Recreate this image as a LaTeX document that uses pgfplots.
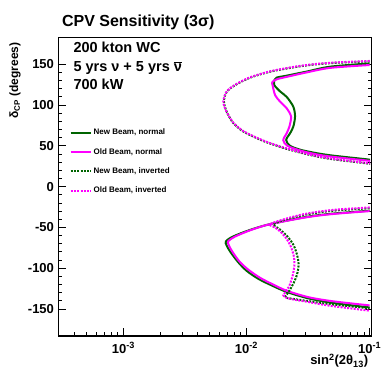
\documentclass[border=0pt]{standalone}
\usepackage{pgfplots}
\pgfplotsset{compat=1.18}
\usepackage{fontspec}
\setmainfont{Liberation Sans}

\definecolor{newgreen}{RGB}{0,100,0}
\definecolor{oldmag}{RGB}{255,0,255}

\begin{document}
\begin{tikzpicture}
\begin{axis}[
   scale only axis,
   width=313.2pt, height=298.7pt,
   xmode=log,
   xmin=2.97e-4, xmax=0.104,
   ymin=-183, ymax=183,
   axis line style={line width=1.1pt},
   tick style={line width=0.9pt, black},
   tick align=inside,
   major tick length=8pt, minor tick length=4pt,
   xtick pos=left, ytick pos=both, yticklabel pos=left,
   xtick={1e-3,1e-2,1e-1},
   xticklabels={10\textsuperscript{-3},10\textsuperscript{-2},10\textsuperscript{-1}},
   minor xtick={4e-4,5e-4,6e-4,7e-4,8e-4,9e-4,2e-3,3e-3,4e-3,5e-3,6e-3,7e-3,8e-3,9e-3,2e-2,3e-2,4e-2,5e-2,6e-2,7e-2,8e-2,9e-2},
   ytick={-150,-100,-50,0,50,100,150},
   yticklabels={-150,-100,-50,0,50,100,150},
   minor y tick num=4,
   ticklabel style={font=\bfseries\fontsize{13}{13}\selectfont},
   xticklabel style={yshift=-3pt},
   yticklabel style={xshift=-1pt},
   xlabel={sin\textsuperscript{2}(2θ\textsubscript{13})},
   xlabel style={at={(axis description cs:1,0)}, anchor=base east, yshift=-29pt,
                 font=\bfseries\fontsize{13}{13}\selectfont},
   ylabel={δ\textsubscript{CP} (degrees)},
   ylabel style={at={(axis description cs:-0.139,0.994)}, anchor=east,
                 font=\bfseries\fontsize{12}{12}\selectfont},
   legend style={draw=none, fill=none, at={(axis description cs:0.035,0.70)},
                 anchor=north west, inner sep=0pt, row sep=8pt,
                 cells={anchor=west},
                 font=\bfseries\fontsize{8}{8}\selectfont},
   legend image code/.code={\draw[#1] (0pt,0pt) -- (20pt,0pt);},
 ]
% upper region, delta_CP > 0
\addplot[newgreen, line width=2pt, smooth, tension=0.5] coordinates {
 (0.1,151) (0.0478,147) (0.0309,141) (0.0212,136) (0.0176,133.6) (0.0169,130.8)
 (0.0168,124.6) (0.0188,116.5) (0.0212,110) (0.0240,98) (0.0248,86) (0.0240,73.5)
 (0.0226,65.4) (0.0210,57.2) (0.0226,50) (0.0277,45) (0.0372,41) (0.0505,38)
 (0.0948,33.5) (0.1,33)};
\addlegendentry{New Beam, normal}
\addplot[oldmag, line width=2pt, smooth, tension=0.5] coordinates {
 (0.1,149) (0.0478,145.5) (0.0309,140) (0.0212,134.5) (0.0176,131.5) (0.0162,128)
 (0.0163,124) (0.0171,112) (0.0188,104) (0.0212,96) (0.0230,86) (0.0223,73.5)
 (0.0212,65.4) (0.0199,57) (0.0215,50) (0.0277,44) (0.0372,39.5) (0.0505,36.5)
 (0.0948,32) (0.1,31.5)};
\addlegendentry{Old Beam, normal}
\addplot[newgreen, line width=2pt, dash pattern=on 2pt off 1.3pt, smooth, tension=0.5] coordinates {
 (0.1,153.5) (0.0505,151.5) (0.0349,149.5) (0.0248,146.5) (0.0169,142) (0.0136,138.5)
 (0.0107,133.5) (0.0088,127.5) (0.0074,120.5) (0.0068,114.5) (0.00655,105)
 (0.00670,97) (0.0071,88) (0.0078,78) (0.0092,68.5) (0.0113,61.5) (0.0145,54.5)
 (0.0199,47.5) (0.0277,41.5) (0.0372,37) (0.0505,33.5) (0.0948,28.5) (0.1,28)};
\addlegendentry{New Beam, inverted}
\addplot[oldmag, line width=2pt, dash pattern=on 2pt off 1.3pt, smooth, tension=0.5] coordinates {
 (0.1,154) (0.0505,152) (0.0349,150) (0.0248,147) (0.0169,142.5) (0.0136,139)
 (0.0107,134) (0.0088,128) (0.0074,121) (0.0068,115) (0.00649,105)
 (0.00665,97) (0.0071,88) (0.0078,78.5) (0.0092,69) (0.0113,62) (0.0145,55)
 (0.0199,48) (0.0277,42) (0.0372,37.5) (0.0505,34) (0.0948,29) (0.1,28.5)};
\addlegendentry{Old Beam, inverted}
% lower region, delta_CP < 0
\addplot[newgreen, line width=2pt, smooth, tension=0.5, forget plot] coordinates {
 (0.1,-29.5) (0.0505,-33) (0.0309,-37) (0.0155,-46) (0.0107,-53) (0.0078,-61)
 (0.0068,-67) (0.0069,-72) (0.0074,-80) (0.0085,-92) (0.0100,-103) (0.0125,-113)
 (0.0160,-121) (0.0212,-129) (0.0320,-137) (0.0505,-142.5) (0.1,-148)};
\addplot[oldmag, line width=2pt, smooth, tension=0.5, forget plot] coordinates {
 (0.1,-30) (0.0505,-33.5) (0.0309,-37.5) (0.0155,-46) (0.0107,-53.5) (0.0080,-61.5)
 (0.0071,-67) (0.0072,-72) (0.0077,-80) (0.0088,-92) (0.0104,-102) (0.0130,-112)
 (0.0165,-120) (0.0212,-127.5) (0.0320,-135.5) (0.0505,-140.5) (0.1,-145.5)};
\addplot[newgreen, line width=2pt, dash pattern=on 2pt off 1.3pt, smooth, tension=0.5, forget plot] coordinates {
 (0.1,-26.5) (0.0505,-29.5) (0.0309,-34) (0.0212,-40) (0.0166,-46) (0.0185,-52)
 (0.0212,-60) (0.0240,-71) (0.0258,-84) (0.0265,-96) (0.0257,-108) (0.0240,-119)
 (0.0222,-128) (0.0207,-135) (0.0215,-136.5) (0.0309,-140) (0.0478,-144) (0.1,-149)};
\addplot[oldmag, line width=2pt, dash pattern=on 2pt off 1.3pt, smooth, tension=0.5, forget plot] coordinates {
 (0.1,-25.5) (0.0505,-28.5) (0.0309,-33) (0.0212,-39) (0.0155,-46) (0.0170,-50)
 (0.0188,-55) (0.0212,-64) (0.0230,-74) (0.0243,-86) (0.0245,-96) (0.0238,-108)
 (0.0225,-120) (0.0212,-127) (0.0199,-133) (0.0203,-135) (0.0226,-137.5)
 (0.0309,-141) (0.0478,-146) (0.1,-152)};
% texts in the frame
\node[anchor=base west, xshift=11.5pt, yshift=-15pt, font=\bfseries\fontsize{14.5}{14.5}\selectfont]
   at (axis description cs:0,1) {200 kton WC};
\node[anchor=base west, xshift=11.5pt, yshift=-34.4pt, font=\bfseries\fontsize{14.5}{14.5}\selectfont]
   at (axis description cs:0,1) {5 yrs ν + 5 yrs $\overline{\mbox{ν}}$};
\node[anchor=base west, xshift=11.5pt, yshift=-52pt, font=\bfseries\fontsize{14.5}{14.5}\selectfont]
   at (axis description cs:0,1) {700 kW};
\end{axis}
\node[anchor=base west, yshift=10.6pt, font=\bfseries\fontsize{16}{16}\selectfont]
   at (current axis.north west) {CPV Sensitivity (3σ)};
\pgfresetboundingbox
\path[use as bounding box] (current axis.south west) ++(-58.5pt,-38pt) rectangle ++(392pt,374pt);
\end{tikzpicture}
\end{document}
